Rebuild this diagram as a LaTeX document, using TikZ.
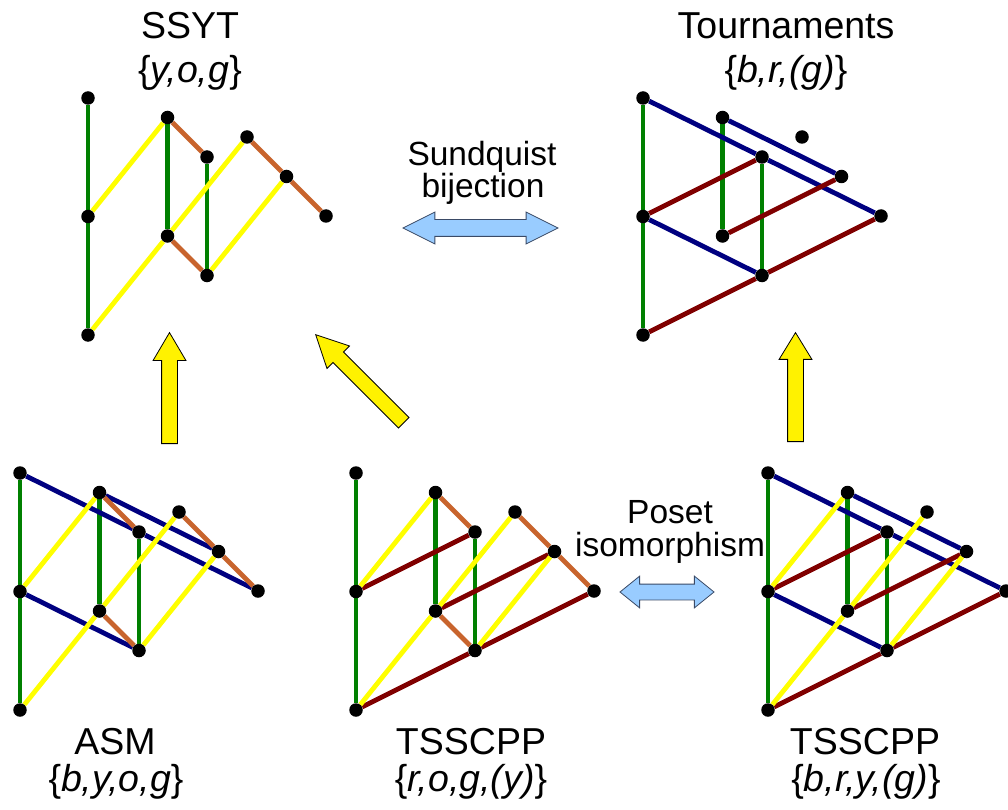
\documentclass[tikz,border=0pt]{standalone}
\usepackage{fontspec}
\setmainfont{Liberation Sans}
\usetikzlibrary{shapes.arrows,backgrounds}
\definecolor{edgegreen}{HTML}{008000}
\definecolor{edgeyellow}{HTML}{FFFF00}
\definecolor{edgeorange}{HTML}{C8642D}
\definecolor{edgeblue}{HTML}{000080}
\definecolor{edgered}{HTML}{800000}
\definecolor{arrowblue}{HTML}{99CCFF}
\definecolor{arrowline}{HTML}{3A4A66}
\tikzset{
       dot/.style = {circle, fill=black, inner sep=0pt, minimum size=13.5pt},
      edge/.style = {line width=4.8pt},
     gline/.style = {edge, draw=edgegreen},
     yline/.style = {edge, draw=edgeyellow},
     oline/.style = {edge, draw=edgeorange},
     bline/.style = {edge, draw=edgeblue},
     rline/.style = {edge, draw=edgered},
     title/.style = {anchor=base, inner sep=0pt, font=\fontsize{37.5}{40}\selectfont},
  midlabel/.style = {anchor=base, inner sep=0pt, font=\fontsize{33.5}{36}\selectfont},
   yarrow/.style = {single arrow, draw=black, fill=yellow, line width=0.8pt,
                    inner sep=0pt, text height=15pt, text depth=0pt,
                    minimum width=32pt, single arrow head extend=8.5pt},
   barrow/.style = {double arrow, draw=arrowline, fill=arrowblue, line width=0.8pt,
                    inner sep=0pt, text depth=0pt},
}
% the ten points of the poset, first one at (#2,#3)
\newcommand\posetdots[3]{%
  \begin{scope}[shift={(#2,#3)}]
    \foreach \n/\px/\py in {a1/0/0, a2/0/118.5, a3/0/237,
                            b1/79.5/19.5, b2/79.5/138,
                            c1/119/59, c2/119/177.5,
                            d1/159/39, d2/198.5/78.5, d3/238/118}
      \node[dot] (#1-\n) at (\px,\py) {};
  \end{scope}}
% edge families
\newcommand\gedges[1]{\draw[gline] (#1-a1) -- (#1-a2) -- (#1-a3) (#1-b1) -- (#1-b2) (#1-c1) -- (#1-c2);}
\newcommand\yedges[1]{\draw[yline] (#1-a2) -- (#1-b1) (#1-a3) -- (#1-b2) -- (#1-d1) (#1-c2) -- (#1-d2);}
\newcommand\oedges[1]{\draw[oline] (#1-b1) -- (#1-c1) (#1-b2) -- (#1-c2) (#1-d1) -- (#1-d2) -- (#1-d3);}
\newcommand\bedges[1]{\draw[bline] (#1-a1) -- (#1-c1) -- (#1-d3) (#1-b1) -- (#1-d2) (#1-a2) -- (#1-c2);}
\newcommand\redges[1]{\draw[rline] (#1-a2) -- (#1-c1) (#1-b2) -- (#1-d2) (#1-a3) -- (#1-c2) -- (#1-d3);}

\begin{document}
\begin{tikzpicture}[x=1pt, y=-1pt]
  \useasboundingbox (0,0) rectangle (1008,810);

  % points
  \posetdots{s}{88}{98}     % SSYT
  \posetdots{t}{643}{98}    % Tournaments
  \posetdots{a}{20}{473}    % ASM
  \posetdots{m}{356}{473}   % TSSCPP (middle)
  \posetdots{p}{768}{473}   % TSSCPP (right)

  % edges
  \begin{scope}[on background layer]
    \gedges{s} \oedges{s} \yedges{s}
    \gedges{t} \bedges{t} \redges{t}
    \gedges{a} \bedges{a} \oedges{a} \yedges{a}
    \gedges{m} \redges{m} \oedges{m} \yedges{m}
    \gedges{p} \bedges{p} \redges{p} \yedges{p}
  \end{scope}

  % labels
  \node[title] (ssyt)    at (190,39)  {SSYT};
  \node[title] (ssytset) at (190,83)  {\{\textit{y,o,g}\}};
  \node[title] (tour)    at (786,39)  {Tournaments};
  \node[title] (tourset) at (786,83)  {\{\textit{b,r,(g)}\}};
  \node[title] (asm)     at (115,754) {ASM};
  \node[title] (asmset)  at (116,791) {\{\textit{b,y,o,g}\}};
  \node[title] (tss)     at (471,754) {TSSCPP};
  \node[title] (tssset)  at (471,791) {\{\textit{r,o,g,(y)}\}};
  \node[title] (tsb)     at (865,754) {TSSCPP};
  \node[title] (tsbset)  at (866,791) {\{\textit{b,r,y,(g)}\}};

  \node[midlabel] (sund)  at (482,166) {Sundquist};
  \node[midlabel] (bij)   at (483,198) {bijection};
  \node[midlabel] (poset) at (670,523) {Poset};
  \node[midlabel] (iso)   at (670,556) {isomorphism};

  % block arrows
  \node[yarrow, rotate=90, anchor=tail, minimum height=111pt,
        single arrow tip angle=61] (up1) at (169.5,444) {};
  \node[yarrow, rotate=90, anchor=tail, minimum height=109pt,
        single arrow tip angle=63] (up2) at (795.5,442) {};
  \node[yarrow, rotate=135, anchor=tail, minimum height=124.5pt,
        minimum width=31pt, text height=14pt, single arrow head extend=8.5pt,
        single arrow tip angle=53] (diag) at (404,423) {};
  \node[barrow, minimum height=155pt, minimum width=31pt, text height=16pt,
        double arrow head extend=7.5pt, double arrow tip angle=53] (sundarr) at (480.5,228) {};
  \node[barrow, minimum height=94pt, minimum width=31pt, text height=15pt,
        double arrow head extend=8pt, double arrow tip angle=78] (posarr) at (667,592) {};
\end{tikzpicture}
\end{document}
